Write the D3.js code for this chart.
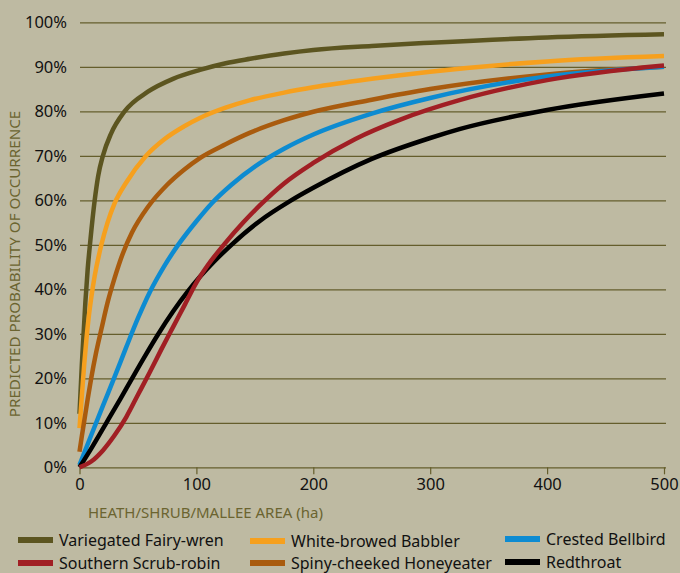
<!DOCTYPE html>
<html><head><meta charset="utf-8">
<script src="https://cdn.jsdelivr.net/npm/d3@7"></script>
<style>
html,body{margin:0;padding:0;background:#bebaa2;}
svg{display:block;}
text{font-family:"Noto Sans","DejaVu Sans",sans-serif;}
</style></head>
<body>
<svg id="chart" width="680" height="573"></svg>
<script>
// ---- data (area in ha, probability in %) ----
const fairyWrenArea  = [0, 2, 5, 7, 9.3, 13, 16, 20, 27, 38.6, 58.5, 80, 103, 125, 146, 175, 200, 250, 300, 400, 500];
const fairyWrenProb  = [12, 23, 37, 44.5, 51, 60, 65.5, 70, 75, 80, 84.4, 87.3, 89.3, 90.8, 91.8, 93, 93.8, 94.7, 95.4, 96.6, 97.3];

const babblerArea    = [0, 2, 4, 6, 8, 10, 13, 18.7, 24, 30, 40, 57, 72, 90, 103, 125, 146, 175, 200, 250, 300, 400, 500];
const babblerProb    = [8.8, 16, 23, 29, 34, 38, 43, 50, 55, 59.3, 64, 70, 73.6, 76.7, 78.5, 80.8, 82.5, 84.2, 85.4, 87.3, 88.9, 91.2, 92.4];

const honeyeaterArea = [0, 2, 4, 7, 10, 14, 18.7, 24, 30, 37, 45, 58.5, 75, 90, 103, 125, 146, 175, 200, 250, 300, 400, 500];
const honeyeaterProb = [3.5, 7, 10.3, 15.3, 20, 25.5, 31, 37, 42.5, 48, 52.8, 58.5, 63.5, 67, 69.5, 72.6, 75.2, 78, 79.9, 82.6, 85, 88.3, 90];

const bellbirdArea   = [0, 10, 20, 30, 40, 50, 60, 72, 85, 100, 113, 130, 154, 175, 200, 250, 300, 400, 500];
const bellbirdProb   = [0.5, 7.2, 13.8, 20.3, 27, 33.5, 39.3, 45, 50.2, 55.3, 59.3, 63.5, 68.3, 71.6, 74.8, 79.5, 83, 87.8, 90];

const scrubRobinArea = [0, 10, 20, 30, 40, 50, 60, 70, 80, 90, 100, 110, 125, 140, 154, 175, 200, 236, 275, 325, 400, 500];
const scrubRobinProb = [0, 1.3, 3.8, 7.2, 11.3, 16.3, 21.3, 26.5, 31.5, 36.5, 41.5, 45.5, 50.5, 55, 58.8, 63.8, 68.4, 73.8, 78.2, 82.5, 87, 90.3];

const redthroatArea  = [0, 10, 23, 35, 45, 56, 67, 80, 92, 103, 115, 130, 154, 180, 200, 250, 300, 325, 400, 500];
const redthroatProb  = [0, 4.2, 10, 15.4, 20, 25, 29.8, 35, 39.3, 42.8, 46.2, 50, 55.3, 59.8, 62.8, 69.3, 74, 76, 80.3, 84];

const seriesNames = ["Variegated Fairy-wren", "White-browed Babbler", "Crested Bellbird", "Southern Scrub-robin", "Spiny-cheeked Honeyeater", "Redthroat"];
const xTicks = [0, 100, 200, 300, 400, 500];
const yTicks = [0, 10, 20, 30, 40, 50, 60, 70, 80, 90, 100];
const xTitle = "HEATH/SHRUB/MALLEE AREA (ha)";
const yTitle = "PREDICTED PROBABILITY OF OCCURRENCE";

const seriesData = {
  "Variegated Fairy-wren": [fairyWrenArea, fairyWrenProb],
  "White-browed Babbler": [babblerArea, babblerProb],
  "Crested Bellbird": [bellbirdArea, bellbirdProb],
  "Southern Scrub-robin": [scrubRobinArea, scrubRobinProb],
  "Spiny-cheeked Honeyeater": [honeyeaterArea, honeyeaterProb],
  "Redthroat": [redthroatArea, redthroatProb]
};
const colors = {
  "Variegated Fairy-wren": "#5c5520",
  "White-browed Babbler": "#f6a01e",
  "Crested Bellbird": "#0d8bd1",
  "Southern Scrub-robin": "#a11f24",
  "Spiny-cheeked Honeyeater": "#a95b0e",
  "Redthroat": "#000000"
};
const drawOrder = ["Variegated Fairy-wren", "White-browed Babbler", "Spiny-cheeked Honeyeater", "Crested Bellbird", "Redthroat", "Southern Scrub-robin"];

// ---- layout ----
const svg = d3.select("#chart");
const x = d3.scaleLinear().domain([0, 500]).range([79.5, 664]);
const y = d3.scaleLinear().domain([0, 100]).range([467.3, 22.3]);
const gridColor = "#655e2c";

// gridlines
const grid = svg.append("g").attr("transform", "translate(80,0)")
  .call(d3.axisLeft(y).tickValues(yTicks).tickSize(-(666 - 80)).tickFormat(""));
grid.select(".domain").remove();
grid.selectAll(".tick line").attr("stroke", gridColor).attr("stroke-width", 1.2);

// y labels
svg.append("g").selectAll("text").data(yTicks).join("text")
  .attr("x", 67).attr("y", d => y(d)).attr("dy", "0.35em")
  .attr("text-anchor", "end").attr("font-size", 16.5).attr("fill", "#111")
  .text(d => d + "%");

// x axis ticks
const xa = svg.append("g").attr("transform", `translate(0,${y(0)})`)
  .call(d3.axisBottom(x).tickValues(xTicks).tickSize(7).tickFormat(d => d));
xa.select(".domain").remove();
xa.selectAll(".tick line").attr("stroke", gridColor).attr("stroke-width", 1.2);
xa.selectAll(".tick text").attr("font-size", 16.5).attr("fill", "#111").attr("y", 11)
  .attr("font-family", '"Noto Sans","DejaVu Sans",sans-serif');

// axis titles
svg.append("text").attr("x", 88).attr("y", 518).attr("font-size", 15).attr("fill", "#6b6430")
  .text(xTitle);
svg.append("text").attr("transform", "translate(20,264) rotate(-90)").attr("text-anchor", "middle")
  .attr("font-size", 15.2).attr("fill", "#6b6430").text(yTitle);

// lines
const line = d3.line().x(d => x(d[0])).y(d => y(d[1])).curve(d3.curveMonotoneX);
svg.append("g").selectAll("path").data(drawOrder).join("path")
  .attr("d", n => line(d3.zip(seriesData[n][0], seriesData[n][1])))
  .attr("fill", "none").attr("stroke", n => colors[n]).attr("stroke-width", 4.5)
  .attr("stroke-linejoin", "round");

// legend
const legendPos = [
  {sx: 18, ty: 540}, {sx: 250, ty: 541}, {sx: 505, ty: 539},
  {sx: 18, ty: 563}, {sx: 250, ty: 563}, {sx: 505, ty: 562}
];
const lg = svg.append("g").selectAll("g").data(seriesNames).join("g")
  .attr("transform", (d, i) => `translate(${legendPos[i].sx},${legendPos[i].ty})`);
lg.append("rect").attr("x", 0).attr("y", -3).attr("width", 35).attr("height", 6)
  .attr("fill", d => colors[d]);
lg.append("text").attr("x", 41).attr("dy", "0.35em").attr("font-size", 16).attr("fill", "#111")
  .text(d => d);
</script>
</body></html>
